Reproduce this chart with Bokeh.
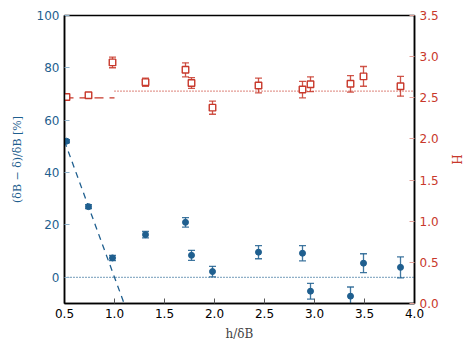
from bokeh.plotting import figure
from bokeh.models import (ColumnDataSource, Range1d, LinearAxis, Whisker, TeeHead,
                          FixedTicker)
from bokeh.embed import file_html
from bokeh.resources import INLINE

# ---- data ----
x_vals = [0.52, 0.74, 0.98, 1.31, 1.71, 1.77, 1.98, 2.44, 2.88, 2.96, 3.36, 3.49, 3.86]
delta_pct = [52.0, 27.0, 7.4, 16.3, 21.0, 8.4, 2.2, 9.6, 9.2, -5.3, -7.2, 5.4, 3.8]
delta_err = [0.6, 0.8, 1.0, 1.2, 1.8, 1.9, 2.0, 2.5, 2.9, 3.0, 3.5, 3.6, 4.0]
H_vals = [2.51, 2.53, 2.93, 2.69, 2.84, 2.68, 2.38, 2.65, 2.60, 2.665, 2.67, 2.76, 2.64]
H_err = [0.02, 0.03, 0.065, 0.05, 0.085, 0.065, 0.08, 0.09, 0.10, 0.09, 0.10, 0.12, 0.12]

fit_x = [0.5, 1.1]
fit_y = [52.0, -10.4]
zero_x = [0.5, 4.0]
zero_y = [0.0, 0.0]
H_low_x = [0.5, 1.0]
H_low_y = [2.5, 2.5]
H_high_x = [1.0, 4.0]
H_high_y = [2.58, 2.58]

x_ticks = [0.5, 1.0, 1.5, 2.0, 2.5, 3.0, 3.5, 4.0]
left_ticks = [0, 20, 40, 60, 80, 100]
right_ticks = [0.0, 0.5, 1.0, 1.5, 2.0, 2.5, 3.0, 3.5]

BLUE = "#1f5f8f"
RED = "#c8382b"
BLUE_T = "#8fb3cc"
RED_T = "#e3a199"

src_b = ColumnDataSource(dict(x=x_vals, y=delta_pct,
                              lo=[v - e for v, e in zip(delta_pct, delta_err)],
                              hi=[v + e for v, e in zip(delta_pct, delta_err)]))
src_r = ColumnDataSource(dict(x=x_vals, y=H_vals,
                              lo=[v - e for v, e in zip(H_vals, H_err)],
                              hi=[v + e for v, e in zip(H_vals, H_err)]))

p = figure(width=466, height=348, output_backend="svg", toolbar_location=None,
           x_range=Range1d(0.5, 4.0), y_range=Range1d(-10, 100),
           min_border_left=64, min_border_right=52, min_border_top=15, min_border_bottom=45)
p.extra_y_ranges = {"H": Range1d(0.0, 3.5)}
p.grid.visible = False
p.outline_line_color = "black"
p.outline_line_width = 1.5
p.background_fill_color = "white"
p.border_fill_color = "white"

# axes styling
xa = p.xaxis[0]
xa.ticker = FixedTicker(ticks=x_ticks)
xa.major_label_overrides = {v: f"{v:.1f}" for v in x_ticks}
xa.axis_label = "h/δB"
xa.axis_label_text_font = "DejaVu Serif"
xa.axis_label_text_font_style = "normal"
xa.axis_label_text_font_size = "12px"
xa.axis_label_standoff = 6
xa.major_label_text_font = "DejaVu Sans"
xa.major_label_text_font_size = "12px"
xa.major_label_text_color = "black"
xa.major_tick_in = 5
xa.major_tick_out = 0
xa.minor_tick_line_color = None
xa.axis_line_color = "black"
xa.axis_line_width = 1.5
xa.major_tick_line_color = "#555555"

ya = p.yaxis[0]
ya.ticker = FixedTicker(ticks=left_ticks)
ya.axis_label = "(δB − δ)/δB [%]"
ya.axis_label_text_font = "DejaVu Serif"
ya.axis_label_text_font_style = "normal"
ya.axis_label_text_font_size = "11px"
ya.axis_label_text_color = BLUE
ya.axis_label_standoff = 10
ya.major_label_text_font = "DejaVu Sans"
ya.major_label_text_font_size = "12px"
ya.major_label_text_color = BLUE
ya.major_tick_in = 5
ya.major_tick_out = 0
ya.minor_tick_line_color = None
ya.major_tick_line_color = BLUE_T
ya.axis_line_color = "black"
ya.axis_line_width = 1.5

ra = LinearAxis(y_range_name="H", ticker=FixedTicker(ticks=right_ticks))
ra.axis_label = "H"
ra.axis_label_text_font = "DejaVu Serif"
ra.axis_label_text_font_style = "normal"
ra.axis_label_text_font_size = "12px"
ra.axis_label_text_color = RED
ra.axis_label_standoff = 7
ra.major_label_text_font = "DejaVu Sans"
ra.major_label_text_font_size = "12px"
ra.major_label_text_color = RED
ra.major_tick_in = 5
ra.major_tick_out = 0
ra.minor_tick_line_color = None
ra.major_tick_line_color = RED_T
ra.axis_line_color = "black"
ra.axis_line_width = 1.5
ra.major_label_overrides = {v: f"{v:.1f}" for v in right_ticks}
p.add_layout(ra, "right")

# lines
p.line(fit_x, fit_y, line_color=BLUE, line_width=1.3, line_dash="6 5")
p.line(zero_x, zero_y, line_color=BLUE, line_width=1.3, line_dash="1 2")
p.line(H_low_x, H_low_y, y_range_name="H", line_color=RED, line_width=1.3, line_dash="9 6")
p.line(H_high_x, H_high_y, y_range_name="H", line_color=RED, line_width=1.3, line_dash="1 2")

# error bars
wb = Whisker(source=src_b, base="x", lower="lo", upper="hi", line_color=BLUE, line_width=1.3,
             line_alpha=0.85)
wb.upper_head = TeeHead(size=7, line_color=BLUE, line_width=1.3, line_alpha=0.85)
wb.lower_head = TeeHead(size=7, line_color=BLUE, line_width=1.3, line_alpha=0.85)
p.add_layout(wb)

wr = Whisker(source=src_r, base="x", lower="lo", upper="hi", y_range_name="H",
             line_color=RED, line_width=1.3, line_alpha=0.85)
wr.upper_head = TeeHead(size=7, line_color=RED, line_width=1.3, line_alpha=0.85)
wr.lower_head = TeeHead(size=7, line_color=RED, line_width=1.3, line_alpha=0.85)
p.add_layout(wr)

# markers
p.scatter("x", "y", source=src_r, y_range_name="H", marker="square", size=6.5,
          fill_color="white", line_color=RED, line_width=1.4)
p.scatter("x", "y", source=src_b, marker="circle", size=6,
          fill_color=BLUE, line_color=BLUE)

open("out.html", "w").write(file_html(p, INLINE))
